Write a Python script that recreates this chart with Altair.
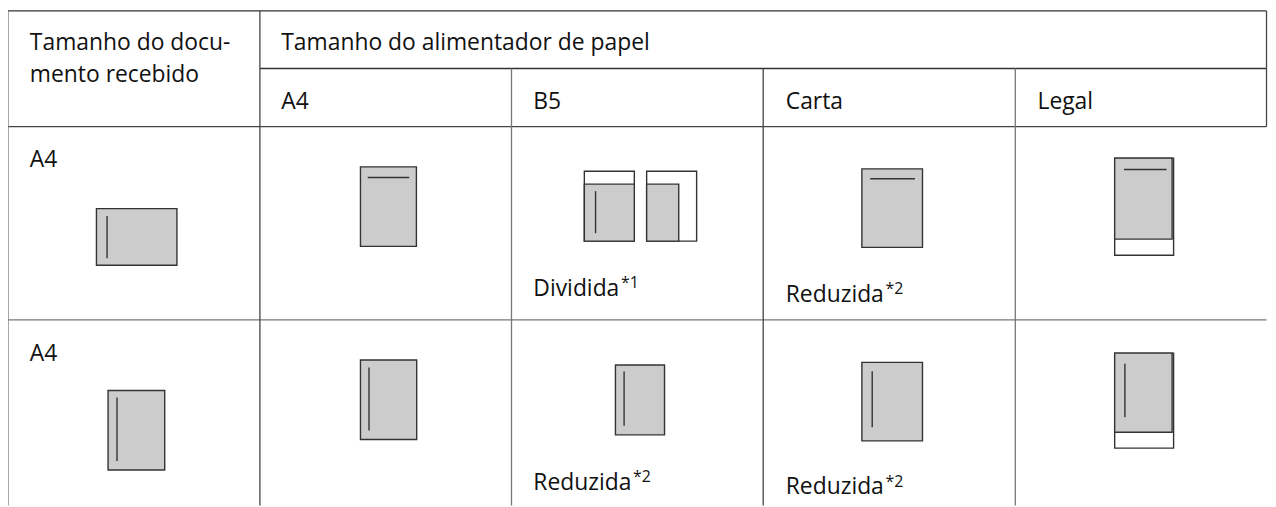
import altair as alt
import pandas as pd

# ---- table grid lines (image pixel coordinates) ----
h_y = [9.3, 67.3, 125.7, 320.3]
h_x1 = [8, 261.5, 8, 8]
h_x2 = [1274.5, 1274.5, 1274.5, 1274.5]
h_col = ["#333333", "#333333", "#444444", "#777777"]

v_x = [8, 261.5, 514.7, 768.0, 1021.7, 1274.5]
v_y1 = [9.3, 9.3, 67.3, 67.3, 67.3, 9.3]
v_y2 = [507, 507, 507, 507, 507, 125.7]
v_col = ["#777777", "#444444", "#777777", "#444444", "#777777", "#444444"]

# ---- page icons (rectangles) ----
r_x1 = [97, 362.7, 588, 588, 650.7, 650.7, 867.3, 1121.7, 1121.7,
        108.7, 362.7, 619.3, 867.3, 1121.7, 1121.7]
r_x2 = [178, 419, 638.3, 638.3, 701, 683, 928.3, 1181, 1179.5,
        165.7, 419.3, 668.7, 928.3, 1181, 1179.5]
r_y1 = [208.3, 166.3, 170.7, 183.7, 170.7, 183.7, 168.3, 157.5, 157.5,
        391.3, 360.7, 365.7, 363, 353.7, 353.7]
r_y2 = [265.3, 246.3, 241, 241, 241, 241, 247.3, 255.3, 239,
        471.3, 440.7, 436, 442, 449.3, 433.3]
r_fill = ["#cccccc", "#cccccc", "#ffffff", "#cccccc", "#ffffff", "#cccccc", "#cccccc", "#ffffff", "#cccccc",
          "#cccccc", "#cccccc", "#cccccc", "#cccccc", "#ffffff", "#cccccc"]

# ---- text lines inside icons ----
l_x1 = [107.7, 370, 599.3, 875.7, 1131, 117.7, 371.3, 628, 877.7, 1132]
l_x2 = [107.7, 411.7, 599.3, 920.7, 1174, 117.7, 371.3, 628, 877.7, 1132]
l_y1 = [215.7, 177, 190.7, 178.3, 169, 398.3, 368.3, 372.3, 372, 364.3]
l_y2 = [258.3, 177, 233, 178.3, 169, 462.3, 431.7, 426.7, 428.3, 418.3]

# ---- texts ----
t_text = ["Tamanho do docu-", "mento recebido", "Tamanho do alimentador de papel",
          "A4", "B5", "Carta", "Legal", "A4", "A4",
          "Dividida", "Reduzida", "Reduzida", "Reduzida"]
t_x = [30, 30, 283, 283, 536.7, 790.7, 1044, 30, 30, 536.7, 790.7, 536.7, 790.7]
t_y = [48.3, 81.3, 48.3, 108.3, 108.3, 108.3, 108.3, 166.7, 361.7, 296.7, 302.7, 491, 496]

s_text = ["*1", "*2", "*2", "*2"]
s_x = [625, 891, 637, 891]
s_y = [288.5, 294.5, 483, 488]

xs = alt.Scale(domain=[8, 1276], zero=False, nice=False)
ys = alt.Scale(domain=[8, 507], zero=False, nice=False, reverse=True)

def X(f):
    return alt.X(f, type="quantitative", scale=xs, axis=None)

def Y(f):
    return alt.Y(f, type="quantitative", scale=ys, axis=None)

hdf = pd.DataFrame({"x1": h_x1, "x2": h_x2, "y1": h_y, "y2": h_y, "c": h_col})
vdf = pd.DataFrame({"x1": v_x, "x2": v_x, "y1": v_y1, "y2": v_y2, "c": v_col})
gdf = pd.concat([hdf, vdf], ignore_index=True)

grid = alt.Chart(gdf).mark_rule(strokeWidth=1.3).encode(
    x=X("x1"), x2="x2", y=Y("y1"), y2="y2",
    color=alt.Color("c:N", scale=None),
)

rdf = pd.DataFrame({"x1": r_x1, "x2": r_x2, "y1": r_y1, "y2": r_y2, "f": r_fill,
                    "o": list(range(len(r_x1)))})
rects = alt.Chart(rdf).mark_rect(stroke="#333333", strokeWidth=1.4).encode(
    x=X("x1"), x2="x2", y=Y("y1"), y2="y2",
    fill=alt.Fill("f:N", scale=None),
    order=alt.Order("o:Q"),
)

ldf = pd.DataFrame({"x1": l_x1, "x2": l_x2, "y1": l_y1, "y2": l_y2})
lines = alt.Chart(ldf).mark_rule(color="#333333", strokeWidth=1.4).encode(
    x=X("x1"), x2="x2", y=Y("y1"), y2="y2",
)

tdf = pd.DataFrame({"t": t_text, "x": t_x, "y": t_y})
texts = alt.Chart(tdf).mark_text(
    align="left", baseline="alphabetic", font="Open Sans", fontSize=23, color="#111111"
).encode(x=X("x"), y=Y("y"), text="t:N")

sdf = pd.DataFrame({"t": s_text, "x": s_x, "y": s_y})
sups = alt.Chart(sdf).mark_text(
    align="left", baseline="alphabetic", font="Open Sans", fontSize=16, color="#111111"
).encode(x=X("x"), y=Y("y"), text="t:N")

chart = alt.layer(grid, rects, lines, texts, sups).properties(
    width=1268, height=499,
    padding=0, autosize=alt.AutoSizeParams(type="none"),
    background="white",
).configure_view(stroke=None)

chart.save("out.html", embed_options={"renderer": "svg", "actions": False})
